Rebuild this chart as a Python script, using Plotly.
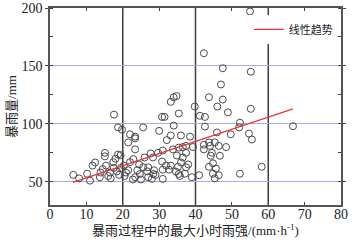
import plotly.graph_objects as go

# Scatter data: max hourly rain intensity (mm/h) vs storm rainfall (mm)
rain_x = [55.0, 42.3, 47.5, 55.2, 47.0, 34.0, 34.8, 33.2, 43.7, 47.5, 39.8, 46.0, 55.2, 35.4, 41.2,
          42.6, 48.9, 30.8, 31.5, 17.6, 52.2, 66.8, 52.0,
          18.7, 19.8, 22.0, 23.4, 25.6, 30.0, 34.0, 42.6, 33.2, 36.0, 38.5, 45.9, 49.7, 54.7, 55.5,
          32.1, 21.5, 23.4,
          42.3, 43.7, 45.3, 44.0, 46.4, 48.4, 42.3, 39.3, 36.5, 37.4, 35.4, 33.8, 31.0, 29.7, 27.7,
          23.4, 15.1, 15.1, 18.7, 19.4, 18.0, 17.4, 22.9, 22.0, 26.0, 28.3, 34.9, 36.5, 37.4, 44.5,
          44.2, 46.7, 36.0, 30.8,
          31.9, 33.2, 35.2, 37.4, 37.1, 34.6, 31.0, 32.7, 25.6, 24.5, 26.7, 28.6, 27.0, 20.3, 15.4,
          11.7, 12.4, 43.7, 44.8, 45.6, 58.2, 44.8, 45.3, 46.4, 41.0, 39.0, 52.2, 35.4, 35.7, 31.0,
          27.0, 28.0, 28.4, 24.7, 24.0, 23.4, 22.8, 20.9, 18.4, 16.0, 16.7, 13.7, 13.9, 10.2, 11.0,
          8.0, 6.4, 19.5, 20.5, 21.5, 19.0, 17.5, 16.5, 14.5, 25.0, 29.0, 38.0]
rain_y = [197, 161, 148, 145, 134, 123, 124, 119, 123, 121, 115, 115, 113, 109, 107,
          106, 110, 106, 106, 108, 101, 98, 97,
          97, 95, 91, 89, 97, 94, 98.5, 97.7, 90, 90, 89, 92.6, 91, 91.6, 86.5,
          86, 84, 87.5,
          82, 84, 84, 81, 81, 80, 78, 80, 80, 81, 79.5, 78, 77, 75, 74.5,
          78, 75, 72, 73.5, 73, 70, 67, 69.6, 67, 71, 71, 72.7, 71, 75, 75,
          72.5, 72.5, 66.7, 67.5,
          64, 64, 63, 62.5, 57, 58.8, 60.5, 60.5, 62.5, 65, 59, 60, 62.5, 64, 64,
          64, 66.7, 63, 66, 61.5, 63, 57, 53, 55.7, 55.7, 54, 57, 56.7, 55, 52.5,
          54, 52.5, 56.7, 56.7, 60, 54, 52, 58, 59, 55, 53, 54, 58, 57, 51,
          53, 56, 62, 55, 60, 56, 62, 58, 61, 52, 56, 65]

# Linear trend endpoints
trend_x = [6.3, 66.8]
trend_y = [49.5, 113.0]

# Reference vertical lines
ref_x = [20, 40, 60]

x_ticks = [0, 10, 20, 30, 40, 50, 60, 70, 80]
y_ticks = [50, 100, 150, 200]

serif = "Liberation Serif, Noto Sans CJK SC, serif"

fig = go.Figure()
fig.add_trace(go.Scatter(
    x=rain_x, y=rain_y, mode="markers", showlegend=False,
    marker=dict(symbol="circle-open", size=7, color="#4a4a4a", line=dict(width=1)),
))
fig.add_trace(go.Scatter(
    x=trend_x, y=trend_y, mode="lines", name="线性趋势",
    line=dict(color="#ee3333", width=1.2),
))

for xv in ref_x:
    fig.add_shape(type="line", xref="x", yref="paper", x0=xv, x1=xv, y0=0, y1=1,
                  line=dict(color="#3c3c3c", width=1.5), layer="below")

fig.update_layout(
    width=352, height=246,
    margin=dict(l=50, r=11, t=8, b=41),
    paper_bgcolor="white", plot_bgcolor="white",
    font=dict(family=serif, size=14, color="#222222"),
    legend=dict(x=0.683, y=0.965, xanchor="left", yanchor="top",
                bgcolor="white", borderwidth=0,
                font=dict(family=serif, size=11, color="#222222")),
)
fig.update_xaxes(
    range=[0, 80], tickvals=x_ticks, ticks="inside", ticklen=3, tickcolor="#444",
    showline=True, linecolor="#555", linewidth=1.5, mirror="ticks",
    showgrid=False, zeroline=False, automargin=False, ticklabelstandoff=-5,
    tickfont=dict(family=serif, size=14, color="#222"),
    title=dict(text="暴雨过程中的最大小时雨强/(mm·h<sup>-1</sup>)", standoff=4,
               font=dict(family=serif, size=13, color="#222")),
)
fig.update_yaxes(
    range=[30, 200], tickvals=y_ticks, ticks="outside", ticklen=3, tickcolor="#444",
    showline=True, linecolor="#555", linewidth=1.5, mirror="ticks",
    showgrid=True, gridcolor="#a9aee6", gridwidth=1, zeroline=False, automargin=False,
    minor=dict(dtick=25, ticks="inside", ticklen=3, tickcolor="#444", showgrid=False),
    tickfont=dict(family=serif, size=14, color="#222"),
    title=dict(text="暴雨量/mm", standoff=2,
               font=dict(family=serif, size=13, color="#222")),
)

fig.write_html("out.html", config={"displayModeBar": False},
               post_script="document.body.style.margin='0px';")
